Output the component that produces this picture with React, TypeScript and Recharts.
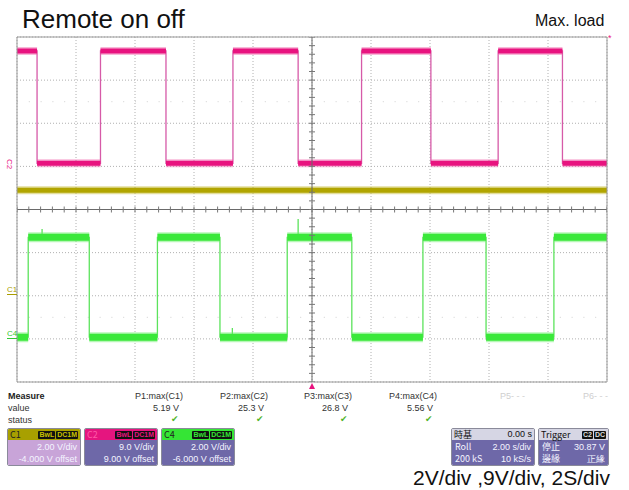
import React from 'react'
import { ComposedChart, Line, Scatter, XAxis, YAxis, CartesianGrid, ReferenceLine } from 'recharts'

// time axis: 2 s/div, 10 div
const timeTicks = [0, 2, 4, 6, 8, 10, 12, 14, 16, 18, 20]
// vertical divisions
const divTicks = [-4, -3, -2, -1, 0, 1, 2, 3, 4]

// channel settings: V/div and offset (V)
const c1Scale = 2
const c1Offset = -4
const c2Scale = 9
const c2Offset = 9
const c4Scale = 2
const c4Offset = -6

// C2 (magenta), starts high
const c2FallTimes = [0.68, 5.05, 9.53, 14.03, 18.49]
const c2RiseTimes = [2.83, 7.32, 11.68, 16.31]
const c2High = 24.1
const c2Low = 0.64

// C1 (olive), flat
const c1Level = 4.89

// C4 (green), starts low
const c4RiseTimes = [0.38, 4.76, 9.16, 13.76, 18.2]
const c4FallTimes = [2.45, 6.88, 11.35, 15.9]
const c4High = 4.71
const c4Low = 0.08
const c4Glitches = [
  { t: 9.53, from: 4.71, to: 5.56 },
  { t: 7.3, from: 0.08, to: 0.5 },
  { t: 0.85, from: 4.71, to: 5.1 },
]

// measurements
const measureNames = ['P1:max(C1)', 'P2:max(C2)', 'P3:max(C3)', 'P4:max(C4)']
const measureValues = ['5.19 V', '25.3 V', '26.8 V', '5.56 V']

type Pt = { t: number; v: number | null }

function buildWave(rises: number[], falls: number[], startHigh: boolean, hi: number, lo: number, scale: number, offset: number) {
  const toDiv = (v: number) => (v + offset) / scale
  const edges = [...rises.map((t) => ({ t, up: true })), ...falls.map((t) => ({ t, up: false }))].sort((a, b) => a.t - b.t)
  const thin: Pt[] = []
  const thick: Pt[] = []
  let level = startHigh ? hi : lo
  let start = 0
  thin.push({ t: 0, v: toDiv(level) })
  edges.forEach((e) => {
    thin.push({ t: e.t, v: toDiv(level) })
    thick.push({ t: start, v: toDiv(level) }, { t: e.t, v: toDiv(level) }, { t: e.t, v: null })
    level = e.up ? hi : lo
    thin.push({ t: e.t, v: toDiv(level) })
    start = e.t
  })
  thin.push({ t: 20, v: toDiv(level) })
  thick.push({ t: start, v: toDiv(level) }, { t: 20, v: toDiv(level) })
  return { thin, thick }
}

const c2Wave = buildWave(c2RiseTimes, c2FallTimes, true, c2High, c2Low, c2Scale, c2Offset)
const c4Wave = buildWave(c4RiseTimes, c4FallTimes, false, c4High, c4Low, c4Scale, c4Offset)
const c1Data = [
  { t: 0, v: (c1Level + c1Offset) / c1Scale },
  { t: 20, v: (c1Level + c1Offset) / c1Scale },
]
const c4GlitchData: Pt[] = c4Glitches.flatMap((g) => [
  { t: g.t, v: (g.from + c4Offset) / c4Scale },
  { t: g.t, v: (g.to + c4Offset) / c4Scale },
  { t: g.t, v: null },
])

// minor ticks along the centre axes (0.2 div)
const hMinor = Array.from({ length: 51 }, (_, i) => ({ t: i * 0.4, v: 0 }))
const vMinor = Array.from({ length: 41 }, (_, i) => ({ t: 10, v: -4 + i * 0.2 }))

const HTick = (p: any) => <line x1={p.cx} x2={p.cx} y1={p.cy - 3} y2={p.cy + 3} stroke="#777" strokeWidth={1} />
const VTick = (p: any) => <line x1={p.cx - 3} x2={p.cx + 3} y1={p.cy} y2={p.cy} stroke="#777" strokeWidth={1} />

const small: React.CSSProperties = { position: 'absolute', fontSize: 9, lineHeight: '11px', color: '#333', whiteSpace: 'nowrap' }

function Tag({ text, color }: { text: string; color: string }) {
  return (
    <span style={{ background: '#111', color, fontSize: 7, lineHeight: '8px', padding: '0 1px', marginLeft: 1, borderRadius: 1, fontWeight: 700 }}>{text}</span>
  )
}

function Box(props: {
  left: number
  width: number
  headBg: string
  headLeft: string
  headLeftColor: string
  headRight: React.ReactNode
  bodyBg: string
  rows: [string, string][]
}) {
  const { left, width, headBg, headLeft, headLeftColor, headRight, bodyBg, rows } = props
  return (
    <div style={{ position: 'absolute', left, top: 428, width, height: 38, border: '1px solid #8a8a9a', borderRadius: 2, overflow: 'hidden', boxSizing: 'border-box', fontSize: 9 }}>
      <div style={{ background: headBg, height: 11, display: 'flex', justifyContent: 'space-between', alignItems: 'center', padding: '0 2px', lineHeight: '11px' }}>
        <span style={{ color: headLeftColor, fontFamily: '"Noto Sans CJK TC", "Liberation Sans", sans-serif', fontSize: 9 }}>{headLeft}</span>
        <span style={{ display: 'flex', alignItems: 'center' }}>{headRight}</span>
      </div>
      <div style={{ background: bodyBg, height: 27, padding: '1px 3px', color: '#f4f4ff', lineHeight: '12px' }}>
        {rows.map(([a, b], i) => (
          <div key={i} style={{ display: 'flex', justifyContent: 'space-between' }}>
            <span style={{ fontFamily: '"Noto Sans CJK TC", "Liberation Sans", sans-serif' }}>{a}</span>
            <span>{b}</span>
          </div>
        ))}
      </div>
    </div>
  )
}

export default function App() {
  const measureRight = [183, 268, 352, 437]
  return (
    <div style={{ position: 'absolute', left: 0, top: 0, width: 629, height: 490, background: '#fff', fontFamily: '"Liberation Sans", Arial, sans-serif', overflow: 'hidden' }}>
      <div style={{ position: 'absolute', left: 22, top: 6, fontSize: 26, lineHeight: '26px', color: '#111' }}>Remote on off</div>
      <div style={{ position: 'absolute', left: 535, top: 13, fontSize: 16, lineHeight: '16px', color: '#111' }}>Max. load</div>

      <div style={{ position: 'absolute', left: 0, top: 0 }}>
        <ComposedChart width={629} height={490} margin={{ top: 37, right: 22, bottom: 108, left: 17 }}>
          <XAxis type="number" dataKey="t" domain={[0, 20]} ticks={timeTicks} hide allowDataOverflow />
          <YAxis type="number" dataKey="v" domain={[-4, 4]} ticks={divTicks} hide allowDataOverflow />
          <CartesianGrid stroke="#b0b0b0" strokeDasharray="1 2" />
          <ReferenceLine y={2.5} stroke="#d0d0d0" strokeDasharray="1 10.8" />
          <ReferenceLine y={-2.5} stroke="#d0d0d0" strokeDasharray="1 10.8" />
          <Line data={c1Data} dataKey="v" stroke="#c8bd3a" strokeOpacity={0.5} strokeWidth={8} dot={false} isAnimationActive={false} />
          <Line data={c1Data} dataKey="v" stroke="#b1a500" strokeWidth={5} dot={false} isAnimationActive={false} />
          <Line data={c2Wave.thin} dataKey="v" stroke="#d65aa8" strokeWidth={1.3} dot={false} isAnimationActive={false} />
          <Line data={c2Wave.thick} dataKey="v" stroke="#f060a8" strokeOpacity={0.45} strokeWidth={8} dot={false} connectNulls={false} isAnimationActive={false} />
          <Line data={c2Wave.thick} dataKey="v" stroke="#e8137f" strokeWidth={5} dot={false} connectNulls={false} isAnimationActive={false} />
          <Line data={c4Wave.thin} dataKey="v" stroke="#5ce35c" strokeWidth={1.3} dot={false} isAnimationActive={false} />
          <Line data={c4GlitchData} dataKey="v" stroke="#5ce35c" strokeWidth={1.3} dot={false} connectNulls={false} isAnimationActive={false} />
          <Line data={c4Wave.thick} dataKey="v" stroke="#70f070" strokeOpacity={0.5} strokeWidth={10} dot={false} connectNulls={false} isAnimationActive={false} />
          <Line data={c4Wave.thick} dataKey="v" stroke="#3ae83a" strokeWidth={7} dot={false} connectNulls={false} isAnimationActive={false} />
          <ReferenceLine x={10} stroke="#6a6a6a" />
          <ReferenceLine y={0} stroke="#6a6a6a" />
          <ReferenceLine x={0} stroke="#999" />
          <ReferenceLine x={20} stroke="#999" />
          <ReferenceLine y={4} stroke="#999" />
          <ReferenceLine y={-4} stroke="#999" />
          <Scatter data={hMinor} dataKey="v" shape={HTick} isAnimationActive={false} />
          <Scatter data={vMinor} dataKey="v" shape={VTick} isAnimationActive={false} />
        </ComposedChart>
      </div>

      {/* channel markers */}
      <div style={{ position: 'absolute', left: 4, top: 160, fontSize: 8, color: '#e8137f', transform: 'rotate(90deg)', lineHeight: '8px' }}>C2</div>
      <div style={{ position: 'absolute', left: 7, top: 286, fontSize: 8, color: '#a89c00', lineHeight: '8px', borderBottom: '1px solid #a89c00' }}>C1</div>
      <div style={{ position: 'absolute', left: 7, top: 330, fontSize: 8, color: '#33c833', lineHeight: '8px', borderBottom: '1px solid #33c833' }}>C4</div>
      <div style={{ position: 'absolute', left: 608, top: 34, fontSize: 9, color: '#e8137f', lineHeight: '9px' }}>*</div>
      <div style={{ position: 'absolute', left: 309, top: 383, width: 0, height: 0, borderLeft: '3px solid transparent', borderRight: '3px solid transparent', borderBottom: '6px solid #e8137f' }} />

      {/* measure table */}
      <div style={{ ...small, left: 8, top: 391, fontWeight: 700, color: '#222' }}>Measure</div>
      <div style={{ ...small, left: 8, top: 403 }}>value</div>
      <div style={{ ...small, left: 8, top: 415 }}>status</div>
      {measureNames.map((n, i) => (
        <React.Fragment key={n}>
          <div style={{ ...small, left: measureRight[i] - 60, width: 60, textAlign: 'right', top: 391 }}>{n}</div>
          <div style={{ ...small, left: measureRight[i] - 60, width: 56, textAlign: 'right', top: 403 }}>{measureValues[i]}</div>
          <div style={{ ...small, left: measureRight[i] - 12, top: 414, color: '#52b52a', fontFamily: '"DejaVu Sans", sans-serif', fontSize: 9 }}>✔</div>
        </React.Fragment>
      ))}
      <div style={{ ...small, left: 500, top: 391, color: '#cfcfcf' }}>P5- - -</div>
      <div style={{ ...small, left: 583, top: 391, color: '#cfcfcf' }}>P6- - -</div>

      <Box left={7} width={74} headBg="#a8a000" headLeft="C1" headLeftColor="#222" bodyBg="#c8a4d8"
        headRight={<><Tag text="BwL" color="#c8c000" /><Tag text="DC1M" color="#c8c000" /></>}
        rows={[['', '2.00 V/div'], ['', '-4.000 V offset']]} />
      <Box left={84} width={74} headBg="#e5157f" headLeft="C2" headLeftColor="#ff5aa8" bodyBg="#6e68a8"
        headRight={<><Tag text="BwL" color="#e5157f" /><Tag text="DC1M" color="#e5157f" /></>}
        rows={[['', '9.0 V/div'], ['', '9.00 V offset']]} />
      <Box left={161} width={74} headBg="#35e535" headLeft="C4" headLeftColor="#222" bodyBg="#6e68a8"
        headRight={<><Tag text="BwL" color="#35e535" /><Tag text="DC1M" color="#35e535" /></>}
        rows={[['', '2.00 V/div'], ['', '-6.000 V offset']]} />
      <Box left={451} width={84} headBg="#d6d6e4" headLeft="時基" headLeftColor="#111" bodyBg="#6e68a8"
        headRight={<span style={{ color: '#111' }}>0.00 s</span>}
        rows={[['Roll', '2.00 s/div'], ['200 kS', '10 kS/s']]} />
      <Box left={538} width={71} headBg="#d6d6e4" headLeft="Trigger" headLeftColor="#111" bodyBg="#6e68a8"
        headRight={<><Tag text="C2" color="#ddd" /><Tag text="DC" color="#ddd" /></>}
        rows={[['停止', '30.87 V'], ['邊緣', '正緣']]} />

      <div style={{ position: 'absolute', left: 413, top: 467, fontSize: 21, lineHeight: '21px', color: '#111' }}>2V/div ,9V/div, 2S/div</div>
    </div>
  )
}
